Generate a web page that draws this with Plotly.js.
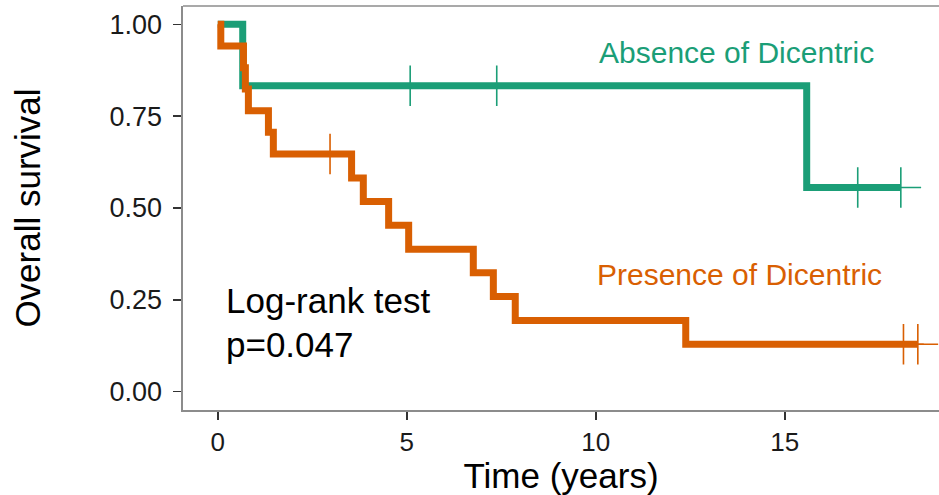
<!DOCTYPE html>
<html>
<head>
<meta charset="utf-8">
<script src="https://cdn.plot.ly/plotly-3.0.1.min.js"></script>
<style>
  html, body { margin: 0; padding: 0; background: #ffffff; }
  #chart { width: 939px; height: 495px; }
</style>
</head>
<body>
<div id="chart"></div>
<script>
// Kaplan-Meier overall survival by dicentric chromosome status

// Absence of Dicentric: step curve
const absenceTime = [0, 0.66, 15.58, 18.07];
const absenceSurv = [1.0, 0.833, 0.556, 0.556];
// Absence of Dicentric: censored observations
const absenceCensorTime = [5.09, 7.38, 16.93, 18.07];
const absenceCensorSurv = [0.833, 0.833, 0.556, 0.556];

// Presence of Dicentric: step curve
const presenceTime = [0, 0.08, 0.68, 0.73, 0.81, 1.34, 1.47, 3.54, 3.85, 4.52, 5.05, 6.76, 7.29, 7.87, 12.38, 18.52];
const presenceSurv = [1.0, 0.941, 0.882, 0.824, 0.765, 0.706, 0.647, 0.582, 0.518, 0.453, 0.388, 0.324, 0.259, 0.194, 0.129, 0.129];
// Presence of Dicentric: censored observations
const presenceCensorTime = [2.97, 18.14, 18.52];
const presenceCensorSurv = [0.647, 0.129, 0.129];

// Axis ticks
const xTickVals = [0, 5, 10, 15];
const yTickVals = [0, 0.25, 0.5, 0.75, 1.0];
const yTickText = ['0.00', '0.25', '0.50', '0.75', '1.00'];

const GREEN = '#1b9e77';
const ORANGE = '#d95f02';
const FONT = 'Liberation Sans, Arial, Helvetica, sans-serif';

function stepTrace(x, y, color) {
  return {
    type: 'scatter', mode: 'lines', x: x, y: y,
    line: { shape: 'hv', color: color, width: 7 },
    hoverinfo: 'skip', showlegend: false
  };
}
function censorTrace(x, y, color) {
  return {
    type: 'scatter', mode: 'markers', x: x, y: y,
    marker: { symbol: 'cross-thin', size: 29, color: color, line: { color: color, width: 1.6 } },
    hoverinfo: 'skip', showlegend: false
  };
}

const data = [
  stepTrace(absenceTime, absenceSurv, GREEN),
  stepTrace(presenceTime, presenceSurv, ORANGE),
  censorTrace(absenceCensorTime, absenceCensorSurv, GREEN),
  censorTrace(presenceCensorTime, presenceCensorSurv, ORANGE)
];

const layout = {
  width: 939, height: 495,
  margin: { l: 183, r: 0, t: 6, b: 85 },
  paper_bgcolor: '#ffffff', plot_bgcolor: '#ffffff',
  font: { family: FONT, color: '#000000' },
  xaxis: {
    range: [-0.92, 19.08],
    tickvals: xTickVals,
    ticks: 'outside', ticklen: 8, tickwidth: 1.5, tickcolor: '#333333',
    tickfont: { size: 26, color: '#1a1a1a', family: FONT },
    ticklabelstandoff: 0,
    showline: true, linecolor: '#8c8c8c', linewidth: 1.6,
    showgrid: false, zeroline: false,
    title: { text: 'Time (years)', font: { size: 35, family: FONT, color: '#000000' }, standoff: 7 }
  },
  yaxis: {
    range: [-0.05, 1.05],
    tickvals: yTickVals, ticktext: yTickText,
    ticks: 'outside', ticklen: 8, tickwidth: 1.5, tickcolor: '#333333',
    tickfont: { size: 27, color: '#1a1a1a', family: FONT },
    ticklabelstandoff: 6,
    showline: true, linecolor: '#8c8c8c', linewidth: 1.6,
    showgrid: false, zeroline: false,
    title: { text: 'Overall survival', font: { size: 35, family: FONT, color: '#000000' }, standoff: 58 }
  },
  shapes: [
    { type: 'line', xref: 'paper', yref: 'paper', x0: 0, x1: 1, y0: 1, y1: 1,
      line: { color: '#8c8c8c', width: 1.6 } }
  ],
  annotations: [
    { x: 0.17, y: 0.2475, xref: 'x', yref: 'y', xanchor: 'left', yanchor: 'middle',
      text: 'Log-rank test', showarrow: false, font: { size: 35, family: FONT, color: '#000000' } },
    { x: 0.17, y: 0.1297, xref: 'x', yref: 'y', xanchor: 'left', yanchor: 'middle',
      text: 'p=0.047', showarrow: false, font: { size: 35, family: FONT, color: '#000000' } },
    { x: 13.73, y: 0.923, xref: 'x', yref: 'y', xanchor: 'center', yanchor: 'middle',
      text: 'Absence of Dicentric', showarrow: false, font: { size: 30, family: FONT, color: GREEN } },
    { x: 13.79, y: 0.318, xref: 'x', yref: 'y', xanchor: 'center', yanchor: 'middle',
      text: 'Presence of Dicentric', showarrow: false, font: { size: 30, family: FONT, color: ORANGE } }
  ]
};

Plotly.newPlot('chart', data, layout, { staticPlot: true, displayModeBar: false });
</script>
</body>
</html>
